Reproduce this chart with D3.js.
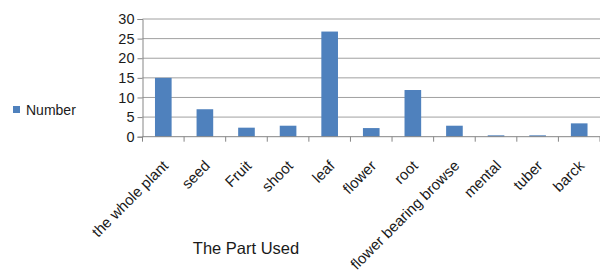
<!DOCTYPE html>
<html>
<head>
<meta charset="utf-8">
<script src="https://cdn.jsdelivr.net/npm/d3@7"></script>
<style>
  body { margin: 0; background: #fff; }
  svg text { font-family: "Liberation Sans", Arial, sans-serif; fill: #1a1a1a; }
</style>
</head>
<body>
<svg id="viz"></svg>
<script>
// the data
var categories = ["the whole plant", "seed", "Fruit", "shoot", "leaf", "flower", "root",
  "flower bearing browse", "mental", "tuber", "barck"];
var values = [15, 7, 2.3, 2.8, 26.8, 2.2, 11.9, 2.8, 0.35, 0.35, 3.4];
var yTicks = [0, 5, 10, 15, 20, 25, 30];
var seriesName = "Number";
var axisTitle = "The Part Used";

var w = 600, h = 276;
var svg = d3.select("#viz").attr("width", w).attr("height", h);

var plotLeft = 142.5, plotRight = 600, plotTop = 19, plotBottom = 136.7;

var x = d3.scaleBand().domain(categories).range([plotLeft, plotRight]).paddingInner(0.6).paddingOuter(0.3);
var y = d3.scaleLinear().domain([0, 30]).range([plotBottom, plotTop]);

// gridlines
svg.selectAll("line.grid")
  .data(yTicks.filter(function(d) { return d > 0; }))
  .enter().append("line")
  .attr("class", "grid")
  .attr("x1", plotLeft).attr("x2", plotRight)
  .attr("y1", function(d) { return y(d); }).attr("y2", function(d) { return y(d); })
  .attr("stroke", "#a0a0a0").attr("stroke-width", 1);

// bars
svg.selectAll("rect.bar")
  .data(values)
  .enter().append("rect")
  .attr("class", "bar")
  .attr("x", function(d, i) { return x(categories[i]); })
  .attr("width", x.bandwidth())
  .attr("y", function(d) { return y(d); })
  .attr("height", function(d) { return y(0) - y(d); })
  .attr("fill", "#4f81bd");

// y axis
var yAxis = svg.append("g")
  .attr("transform", "translate(" + plotLeft + ",0)")
  .call(d3.axisLeft(y).tickValues(yTicks).tickSize(5).tickPadding(3));
yAxis.select(".domain").attr("stroke", "#868686");
yAxis.selectAll(".tick line").attr("stroke", "#868686");
yAxis.selectAll("text").style("font-size", "14.5px").attr("fill", "#1a1a1a");

// x axis: ticks at category boundaries
var step = x.step();
var bounds = d3.range(categories.length + 1).map(function(i) { return plotLeft + i * step; });
svg.append("line")
  .attr("x1", plotLeft).attr("x2", plotRight).attr("y1", plotBottom).attr("y2", plotBottom)
  .attr("stroke", "#868686");
svg.selectAll("line.xtick")
  .data(bounds)
  .enter().append("line")
  .attr("class", "xtick")
  .attr("x1", function(d) { return d; }).attr("x2", function(d) { return d; })
  .attr("y1", plotBottom).attr("y2", plotBottom + 5)
  .attr("stroke", "#868686");

// category labels
svg.selectAll("text.cat")
  .data(categories)
  .enter().append("text")
  .attr("class", "cat")
  .attr("text-anchor", "end")
  .attr("transform", function(d) {
    var cx = x(d) + x.bandwidth() / 2 + 6;
    return "translate(" + cx + "," + (plotBottom + 30) + ") rotate(-45)";
  })
  .style("font-size", "15px")
  .text(function(d) { return d; });

// axis title
svg.append("text")
  .attr("x", 246).attr("y", 254)
  .attr("text-anchor", "middle")
  .style("font-size", "16.5px")
  .text(axisTitle);

// legend
svg.append("rect")
  .attr("x", 13).attr("y", 106).attr("width", 7).attr("height", 7)
  .attr("fill", "#4f81bd");
svg.append("text")
  .attr("x", 26).attr("y", 115)
  .style("font-size", "14px")
  .text(seriesName);
</script>
</body>
</html>
